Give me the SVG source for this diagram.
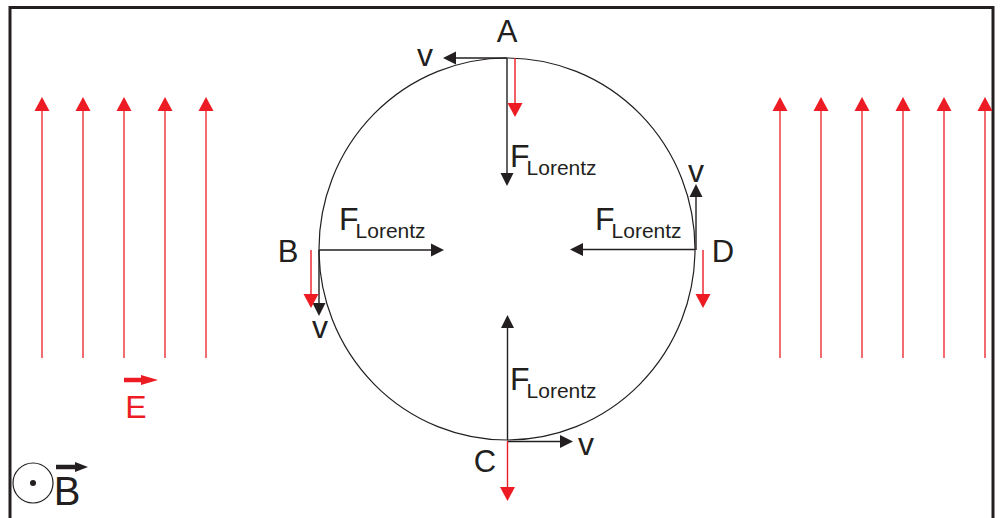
<svg xmlns="http://www.w3.org/2000/svg" width="1001" height="518" viewBox="0 0 1001 518">
<style>
.frame{fill:none;stroke:#231f20;stroke-width:3}
.blk{stroke:#231f20;stroke-width:1.4;fill:none}
.red{stroke:#ed1c24;stroke-width:1.4;fill:none}
.fld{stroke:#ed1c24;stroke-width:1.3;fill:none}
.orbit{fill:none;stroke:#231f20;stroke-width:1.2}
text{font-family:"Liberation Sans",Arial,sans-serif;fill:#231f20}
.lbl{font-size:31px;text-anchor:middle}
.v{font-size:32px;text-anchor:middle}
.F{font-size:32px;letter-spacing:-3px}
.sub{font-size:21px}
.redt{fill:#ed1c24}
</style>
<defs>
<marker id="hb" markerUnits="userSpaceOnUse" markerWidth="14" markerHeight="14" viewBox="0 -7 14 14" refX="0" refY="0" orient="auto" overflow="visible">
<path d="M0,-6.5 L13,0 L0,6.5 z" fill="#231f20"/>
</marker>
<marker id="hr" markerUnits="userSpaceOnUse" markerWidth="15" markerHeight="16" viewBox="0 -8 15 16" refX="0" refY="0" orient="auto" overflow="visible">
<path d="M0,-7.5 L14,0 L0,7.5 z" fill="#ed1c24"/>
</marker>
</defs>

<path class="frame" d="M10,518 V7.5 H993 V518"/>

<g id="field-left">
<line class="fld" x1="42" y1="358" x2="42" y2="111" marker-end="url(#hr)"/>
<line class="fld" x1="83" y1="358" x2="83" y2="111" marker-end="url(#hr)"/>
<line class="fld" x1="124" y1="358" x2="124" y2="111" marker-end="url(#hr)"/>
<line class="fld" x1="165" y1="358" x2="165" y2="111" marker-end="url(#hr)"/>
<line class="fld" x1="206" y1="358" x2="206" y2="111" marker-end="url(#hr)"/>
</g>
<g id="field-right">
<line class="fld" x1="780" y1="358" x2="780" y2="111" marker-end="url(#hr)"/>
<line class="fld" x1="821" y1="358" x2="821" y2="111" marker-end="url(#hr)"/>
<line class="fld" x1="862" y1="358" x2="862" y2="111" marker-end="url(#hr)"/>
<line class="fld" x1="903" y1="358" x2="903" y2="111" marker-end="url(#hr)"/>
<line class="fld" x1="944" y1="358" x2="944" y2="111" marker-end="url(#hr)"/>
<line class="fld" x1="985" y1="358" x2="985" y2="111" marker-end="url(#hr)"/>
</g>

<g id="orbit">
<ellipse class="orbit" cx="507" cy="249" rx="188" ry="191"/>
</g>

<g id="connectors">
<!-- A -->
<line class="blk" x1="507" y1="58" x2="456" y2="58" marker-end="url(#hb)"/>
<line class="blk" x1="507" y1="58" x2="507" y2="173" marker-end="url(#hb)"/>
<line class="red" x1="515" y1="58" x2="515" y2="103" marker-end="url(#hr)"/>
<!-- B -->
<line class="blk" x1="319" y1="250" x2="431" y2="250" marker-end="url(#hb)"/>
<line class="blk" x1="319" y1="250" x2="319" y2="303" marker-end="url(#hb)"/>
<line class="red" x1="311" y1="250" x2="311" y2="294" marker-end="url(#hr)"/>
<!-- D -->
<line class="blk" x1="695" y1="249.5" x2="583" y2="249.5" marker-end="url(#hb)"/>
<line class="blk" x1="696" y1="250" x2="696" y2="197" marker-end="url(#hb)"/>
<line class="red" x1="703" y1="250" x2="703" y2="294" marker-end="url(#hr)"/>
<!-- C -->
<line class="blk" x1="507.5" y1="440" x2="507.5" y2="328" marker-end="url(#hb)"/>
<line class="blk" x1="507" y1="441.5" x2="560" y2="441.5" marker-end="url(#hb)"/>
<line class="red" x1="507.5" y1="441" x2="507.5" y2="487" marker-end="url(#hr)"/>
</g>

<g id="point-A">
<text class="lbl" x="507" y="42" style="font-size:31px">A</text>
<text class="v" x="425" y="66">v</text>
<text x="510" y="167"><tspan class="F">F</tspan><tspan class="sub" dy="8">Lorentz</tspan></text>
</g>
<g id="point-B">
<text class="lbl" x="288" y="262">B</text>
<text class="v" x="320" y="338">v</text>
<text x="339" y="230"><tspan class="F">F</tspan><tspan class="sub" dy="8">Lorentz</tspan></text>
</g>
<g id="point-D">
<text class="lbl" x="723" y="262">D</text>
<text class="v" x="696" y="182">v</text>
<text x="595" y="230"><tspan class="F">F</tspan><tspan class="sub" dy="8">Lorentz</tspan></text>
</g>
<g id="point-C">
<text class="lbl" x="485" y="472">C</text>
<text class="v" x="586" y="455">v</text>
<text x="510" y="390"><tspan class="F">F</tspan><tspan class="sub" dy="8">Lorentz</tspan></text>
</g>

<g id="E-vector">
<line x1="124" y1="380" x2="142" y2="380" stroke="#ed1c24" stroke-width="4.5"/>
<path d="M141,375 L158,380 L141,385 z" fill="#ed1c24"/>
<text class="lbl redt" x="136" y="418" style="font-size:32px">E</text>
</g>

<g id="B-vector">
<circle cx="33" cy="483" r="20" fill="none" stroke="#231f20" stroke-width="1.2"/>
<circle cx="33" cy="483" r="3" fill="#231f20"/>
<line x1="56" y1="467" x2="76" y2="467" stroke="#231f20" stroke-width="4.5"/>
<path d="M75,462 L88,467 L75,472 z" fill="#231f20"/>
<text class="lbl" x="67" y="505" style="font-size:40px">B</text>
</g>
</svg>
